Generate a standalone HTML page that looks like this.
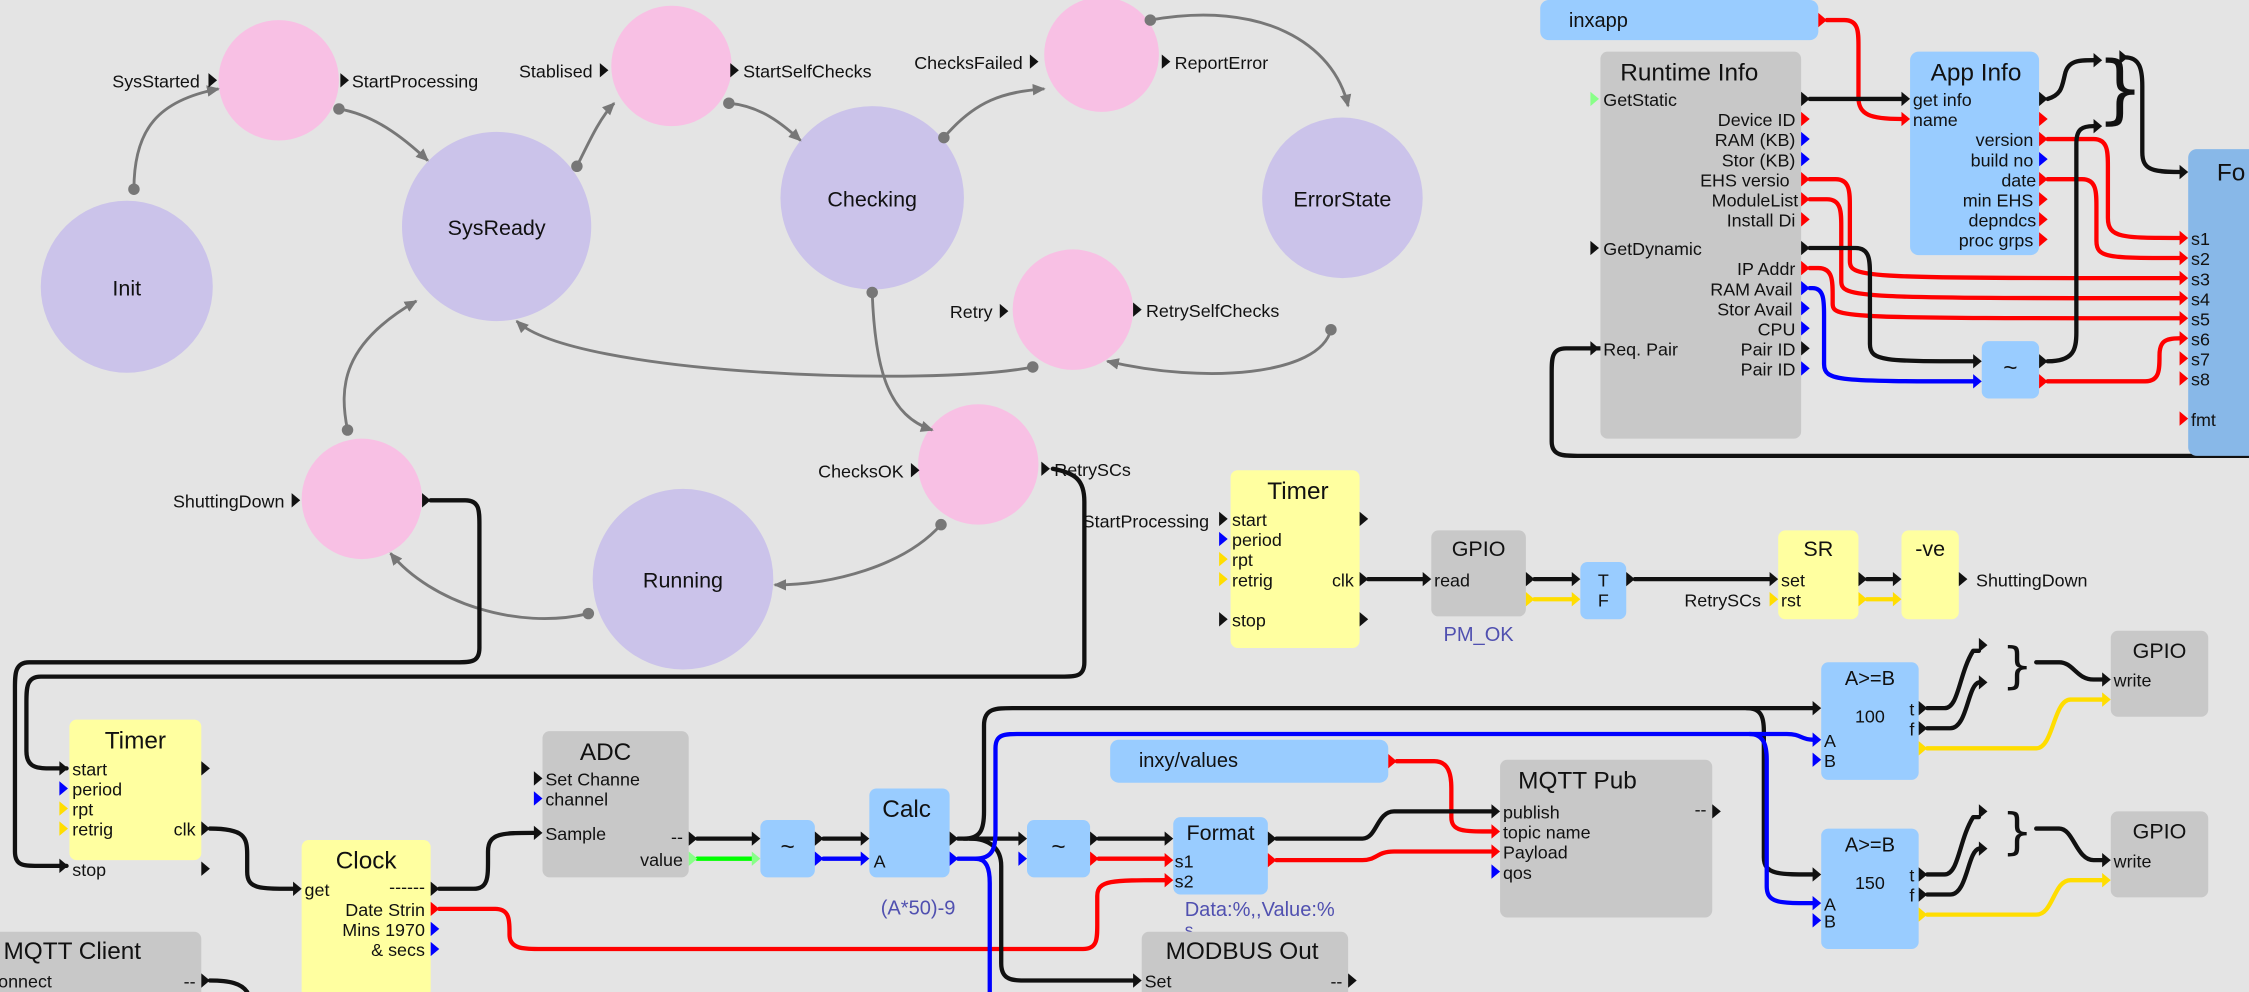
<!DOCTYPE html>
<html><head><meta charset="utf-8"><style>
html,body{margin:0;padding:0;background:#e4e4e4;}
svg{display:block;}
text{font-family:"Liberation Sans",sans-serif;fill:#111;}
.p{font-size:12.5px;}
.t{font-size:17px;}
.s{font-size:15px;}
.w{fill:none;stroke-width:3;stroke-linecap:round;stroke-linejoin:round;}
.g{fill:none;stroke:#777;stroke-width:2;}
</style></head><body>
<svg width="2249" height="992" viewBox="0 0 1568 692" xmlns="http://www.w3.org/2000/svg">
<defs>
<marker id="ah" markerWidth="10" markerHeight="10" refX="8" refY="5" orient="auto" markerUnits="userSpaceOnUse"><path d="M0,1 L9,5 L0,9 z" fill="#777"/></marker>
<path id="pk" d="M0,-5 L6,0 L0,5 z" fill="#111"/>
<path id="pr" d="M0,-5 L6,0 L0,5 z" fill="#f00"/>
<path id="pb" d="M0,-5 L6,0 L0,5 z" fill="#00f"/>
<path id="py" d="M0,-5 L6,0 L0,5 z" fill="#fd0"/>
<path id="pg" d="M0,-5 L6,0 L0,5 z" fill="#8f8"/>
</defs>
<rect width="1568" height="692" fill="#e4e4e4"/>

<g fill="#cbc3ea">
<circle cx="88" cy="200" r="60"/><circle cx="346" cy="158" r="66"/><circle cx="608" cy="138" r="64"/>
<circle cx="936" cy="138" r="56"/><circle cx="476" cy="404" r="63"/>
</g>
<g fill="#f8c0e4">
<circle cx="194" cy="56" r="42"/><circle cx="468" cy="46" r="42"/><circle cx="768" cy="38" r="40"/>
<circle cx="748" cy="216" r="42"/><circle cx="682" cy="324" r="42"/><circle cx="252" cy="348" r="42"/>
</g>
<g class="s" text-anchor="middle">
<text x="88" y="206">Init</text><text x="346" y="164">SysReady</text><text x="608" y="144">Checking</text>
<text x="936" y="144">ErrorState</text><text x="476" y="410">Running</text>
</g>
<g class="g" marker-end="url(#ah)">
<path d="M93 132 C93 90 110 70 152 62"/>
<path d="M236 76 C260 80 280 95 298 112"/>
<path d="M402 116 C410 100 418 82 428 72"/>
<path d="M508 72 C530 74 545 86 558 98"/>
<path d="M658 96 C680 70 700 64 728 62"/>
<path d="M802 14 C880 0 930 30 940 74"/>
<path d="M928 230 C920 262 840 268 772 252"/>
<path d="M720 256 C650 270 400 262 360 224"/>
<path d="M608 204 C610 260 620 290 650 300"/>
<path d="M656 366 C630 395 580 408 540 408"/>
<path d="M410 428 C360 440 300 420 272 386"/>
<path d="M242 300 C236 270 238 240 290 210"/>
</g>
<g fill="#777">
<circle cx="93" cy="132" r="4"/><circle cx="236" cy="76" r="4"/><circle cx="402" cy="116" r="4"/><circle cx="508" cy="72" r="4"/>
<circle cx="658" cy="96" r="4"/><circle cx="802" cy="14" r="4"/><circle cx="928" cy="230" r="4"/><circle cx="720" cy="256" r="4"/>
<circle cx="608" cy="204" r="4"/><circle cx="656" cy="366" r="4"/><circle cx="410" cy="428" r="4"/><circle cx="242" cy="300" r="4"/>
</g>
<g class="p">
<text x="139" y="61" text-anchor="end">SysStarted</text><use href="#pk" x="145" y="56"/>
<use href="#pk" x="237" y="56"/><text x="245" y="61">StartProcessing</text>
<text x="413" y="54" text-anchor="end">Stablised</text><use href="#pk" x="418" y="49"/>
<use href="#pk" x="509" y="49"/><text x="518" y="54">StartSelfChecks</text>
<text x="713" y="48" text-anchor="end">ChecksFailed</text><use href="#pk" x="718" y="43"/>
<use href="#pk" x="810" y="43"/><text x="819" y="48">ReportError</text>
<text x="692" y="222" text-anchor="end">Retry</text><use href="#pk" x="697" y="217"/>
<use href="#pk" x="790" y="216"/><text x="799" y="221">RetrySelfChecks</text>
<text x="630" y="333" text-anchor="end">ChecksOK</text><use href="#pk" x="635" y="328"/>
<use href="#pk" x="726" y="327"/><text x="735" y="332">RetrySCs</text>
<text x="198" y="354" text-anchor="end">ShuttingDown</text><use href="#pk" x="203" y="349"/>
<use href="#pk" x="294" y="349"/>
<text x="843" y="368" text-anchor="end">StartProcessing</text>
</g>

<path class="w" stroke="#111" d="M300 349 H324 C334 349 334 356 334 366 V452 C334 462 328 462 318 462 H20 C10 462 10 470 10 480 V594 C10 604 16 604 26 604 H46"/>
<path class="w" stroke="#111" d="M734 327 C750 330 756 335 756 350 V462 C756 472 750 472 740 472 H28 C18 472 18 480 18 490 V524 C18 536 26 536 36 536 H46"/>

<rect x="858" y="328" width="90" height="124" rx="5" fill="#ffffa0"/>
<text class="t" x="905" y="348" text-anchor="middle">Timer</text>
<g class="p"><text x="859" y="367">start</text><text x="859" y="381">period</text><text x="859" y="395">rpt</text><text x="859" y="409">retrig</text><text x="859" y="437">stop</text><text x="944" y="409" text-anchor="end">clk</text></g>
<use href="#pk" x="850" y="362"/><use href="#pb" x="850" y="376"/><use href="#py" x="850" y="390"/><use href="#py" x="850" y="404"/><use href="#pk" x="850" y="432"/>
<use href="#pk" x="948" y="362"/><use href="#pk" x="948" y="404"/><use href="#pk" x="948" y="432"/>
<path class="w" stroke="#111" d="M954 404 H992"/>
<rect x="998" y="370" width="66" height="60" rx="5" fill="#c8c8c8"/>
<text class="t" x="1031" y="388" text-anchor="middle" style="font-size:15px">GPIO</text>
<text class="p" x="1000" y="409">read</text>
<use href="#pk" x="992" y="404"/>
<text class="p" x="1031" y="447" text-anchor="middle" style="fill:#5050b0;font-size:14px">PM_OK</text>
<path class="w" stroke="#111" d="M1070 404 H1096"/><path class="w" stroke="#fd0" d="M1070 418 H1096"/>
<use href="#pk" x="1064" y="404"/><use href="#py" x="1064" y="418"/>
<rect x="1102" y="392" width="32" height="40" rx="5" fill="#99ccff"/>
<text class="p" x="1118" y="409" text-anchor="middle">T</text><text class="p" x="1118" y="423" text-anchor="middle">F</text>
<use href="#pk" x="1096" y="404"/><use href="#py" x="1096" y="418"/><use href="#pk" x="1134" y="404"/>
<path class="w" stroke="#111" d="M1140 404 H1234"/>
<text class="p" x="1228" y="423" text-anchor="end">RetrySCs</text>
<rect x="1240" y="370" width="56" height="62" rx="5" fill="#ffffa0"/>
<text class="t" x="1268" y="388" text-anchor="middle" style="font-size:15px">SR</text>
<text class="p" x="1242" y="409">set</text><text class="p" x="1242" y="423">rst</text>
<use href="#pk" x="1234" y="404"/><use href="#py" x="1234" y="418"/><use href="#pk" x="1296" y="404"/><use href="#py" x="1296" y="418"/>
<path class="w" stroke="#111" d="M1302 404 H1320"/><path class="w" stroke="#fd0" d="M1302 418 H1320"/>
<rect x="1326" y="370" width="40" height="62" rx="5" fill="#ffffa0"/>
<text class="t" x="1346" y="388" text-anchor="middle" style="font-size:15px">-ve</text>
<use href="#pk" x="1320" y="404"/><use href="#py" x="1320" y="418"/><use href="#pk" x="1366" y="404"/>
<text class="p" x="1378" y="409">ShuttingDown</text>

<path class="w" stroke="#111" d="M146 578 C170 578 172 584 172 596 V608 C172 620 180 620 204 620"/>
<path class="w" stroke="#111" d="M306 620 H330 C340 620 340 612 340 600 V594 C340 581 350 581 372 581"/>
<path class="w" stroke="#f00" d="M306 634 H345 C355 634 355 642 355 650 V652 C355 662 365 662 375 662 H755 C765 662 765 655 765 645 V625 C765 614 775 614 812 614"/>
<path class="w" stroke="#111" d="M486 585 H524"/><path class="w" stroke="#0f0" d="M486 599 H524"/>
<path class="w" stroke="#111" d="M574 585 H600"/><path class="w" stroke="#00f" d="M574 599 H600"/>
<path class="w" stroke="#111" d="M668 585 H710"/>
<path class="w" stroke="#111" d="M672 585 C684 585 686 578 686 566 V506 C686 494 694 494 706 494 H1264"/>
<path class="w" stroke="#111" d="M1218 494 C1228 494 1230 500 1230 510 V598 C1230 610 1240 610 1264 610"/>
<path class="w" stroke="#111" d="M676 585 C690 585 698 592 698 604 V672 C698 684 706 684 716 684 H790"/>
<path class="w" stroke="#00f" d="M668 599 H680 C692 599 694 592 694 580 V522 C694 512 700 512 712 512 H1246 C1256 512 1256 516 1264 516"/>
<path class="w" stroke="#00f" d="M1220 512 C1230 512 1232 520 1232 530 V618 C1232 630 1240 630 1264 630"/>
<path class="w" stroke="#00f" d="M680 599 C688 599 690 606 690 616 V692"/>
<path class="w" stroke="#111" d="M766 585 H812"/><path class="w" stroke="#f00" d="M766 599 H812"/>
<path class="w" stroke="#f00" d="M974 531 H1000 C1010 531 1012 540 1012 550 V570 C1012 580 1020 580 1040 580"/>
<path class="w" stroke="#111" d="M890 585 H950 C960 585 960 566 972 566 H1040"/>
<path class="w" stroke="#f00" d="M890 600 H950 C960 600 960 594 972 594 H1040"/>
<path class="w" stroke="#111" d="M146 684 C160 684 168 686 172 692"/>

<rect x="48" y="502" width="92" height="98" rx="5" fill="#ffffa0"/>
<text class="t" x="94" y="522" text-anchor="middle">Timer</text>
<g class="p"><text x="50" y="541">start</text><text x="50" y="555">period</text><text x="50" y="569">rpt</text><text x="50" y="583">retrig</text><text x="50" y="611">stop</text><text x="136" y="583" text-anchor="end">clk</text></g>
<use href="#pk" x="41" y="536"/><use href="#pb" x="41" y="550"/><use href="#py" x="41" y="564"/><use href="#py" x="41" y="578"/><use href="#pk" x="41" y="604"/>
<use href="#pk" x="140" y="536"/><use href="#pk" x="140" y="578"/><use href="#pk" x="140" y="606"/>
<rect x="210" y="586" width="90" height="110" rx="5" fill="#ffffa0"/>
<text class="t" x="255" y="606" text-anchor="middle">Clock</text>
<g class="p"><text x="212" y="625">get</text><text x="296" y="623" text-anchor="end">------</text><text x="296" y="639" text-anchor="end">Date Strin</text><text x="296" y="653" text-anchor="end">Mins 1970</text><text x="296" y="667" text-anchor="end">&amp; secs</text></g>
<use href="#pk" x="204" y="620"/><use href="#pk" x="300" y="620"/><use href="#pr" x="300" y="634"/><use href="#pb" x="300" y="648"/><use href="#pb" x="300" y="662"/>
<rect x="378" y="510" width="102" height="102" rx="5" fill="#c8c8c8"/>
<text class="t" x="422" y="530" text-anchor="middle">ADC</text>
<g class="p"><text x="380" y="548">Set Channe</text><text x="380" y="562">channel</text><text x="380" y="586">Sample</text><text x="476" y="588" text-anchor="end">--</text><text x="476" y="604" text-anchor="end">value</text></g>
<use href="#pk" x="372" y="543"/><use href="#pb" x="372" y="557"/><use href="#pk" x="372" y="581"/><use href="#pk" x="480" y="585"/><use href="#pg" x="480" y="599"/>
<rect x="530" y="572" width="38" height="40" rx="5" fill="#99ccff"/><text class="t" x="549" y="596" text-anchor="middle">~</text>
<use href="#pk" x="524" y="585"/><use href="#pg" x="524" y="599"/><use href="#pk" x="568" y="585"/><use href="#pb" x="568" y="599"/>
<rect x="606" y="550" width="56" height="62" rx="5" fill="#99ccff"/>
<text class="t" x="632" y="570" text-anchor="middle">Calc</text><text class="p" x="609" y="605">A</text>
<use href="#pk" x="600" y="585"/><use href="#pb" x="600" y="599"/><use href="#pk" x="662" y="585"/><use href="#pb" x="662" y="599"/>
<text class="p" x="640" y="638" text-anchor="middle" style="fill:#5050b0;font-size:14px">(A*50)-9</text>
<rect x="716" y="572" width="44" height="40" rx="5" fill="#99ccff"/><text class="t" x="738" y="596" text-anchor="middle">~</text>
<use href="#pk" x="710" y="585"/><use href="#pb" x="710" y="599"/><use href="#pk" x="760" y="585"/><use href="#pr" x="760" y="599"/>
<rect x="818" y="570" width="66" height="54" rx="5" fill="#99ccff"/>
<text class="t" x="851" y="586" text-anchor="middle" style="font-size:15px">Format</text>
<text class="p" x="819" y="605">s1</text><text class="p" x="819" y="619">s2</text>
<use href="#pk" x="812" y="585"/><use href="#pr" x="812" y="600"/><use href="#pr" x="812" y="614"/><use href="#pk" x="884" y="585"/><use href="#pr" x="884" y="600"/>
<text class="p" x="826" y="639" style="fill:#5050b0;font-size:14px">Data:%,,Value:%</text>
<text class="p" x="826" y="653" style="fill:#5050b0;font-size:12px">s</text>
<rect x="774" y="516" width="194" height="30" rx="6" fill="#99ccff"/>
<text class="p" x="794" y="535" style="font-size:14px">inxy/values</text><use href="#pr" x="968" y="531"/>
<rect x="1046" y="530" width="148" height="110" rx="5" fill="#c8c8c8"/>
<text class="t" x="1100" y="550" text-anchor="middle">MQTT Pub</text>
<g class="p"><text x="1048" y="571">publish</text><text x="1048" y="585">topic name</text><text x="1048" y="599">Payload</text><text x="1048" y="613">qos</text><text x="1190" y="569" text-anchor="end">--</text></g>
<use href="#pk" x="1040" y="566"/><use href="#pr" x="1040" y="580"/><use href="#pr" x="1040" y="594"/><use href="#pb" x="1040" y="608"/><use href="#pk" x="1194" y="566"/>
<rect x="796" y="650" width="144" height="50" rx="5" fill="#c8c8c8"/>
<text class="t" x="866" y="669" text-anchor="middle">MODBUS Out</text>
<text class="p" x="798" y="689">Set</text><text class="p" x="936" y="689" text-anchor="end">--</text>
<use href="#pk" x="790" y="684"/><use href="#pk" x="940" y="684"/>
<rect x="-10" y="650" width="150" height="50" rx="5" fill="#c8c8c8"/>
<text class="t" x="2" y="669">MQTT Client</text>
<text class="p" x="-8" y="689">connect</text><text class="p" x="136" y="689" text-anchor="end">--</text>
<use href="#pk" x="140" y="684"/>

<g>
<rect x="1270" y="462" width="68" height="82" rx="5" fill="#99ccff"/>
<text class="p" x="1304" y="478" text-anchor="middle" style="font-size:14px">A&gt;=B</text>
<text class="p" x="1304" y="504" text-anchor="middle">100</text>
<text class="p" x="1335" y="499" text-anchor="end">t</text><text class="p" x="1335" y="513" text-anchor="end">f</text>
<text class="p" x="1272" y="521">A</text><text class="p" x="1272" y="535">B</text>
<use href="#pk" x="1264" y="494"/><use href="#pb" x="1264" y="516"/><use href="#pb" x="1264" y="530"/>
<use href="#pk" x="1338" y="494"/><use href="#pk" x="1338" y="508"/><use href="#py" x="1338" y="522"/>
<path class="w" stroke="#111" d="M1344 494 H1356 C1366 494 1366 470 1376 454 H1380"/>
<path class="w" stroke="#111" d="M1344 508 H1360 C1372 508 1372 478 1380 476"/>
<use href="#pk" x="1380" y="450"/><use href="#pk" x="1380" y="476"/>
<text x="1396" y="476" style="font-size:34px;font-family:'DejaVu Sans',sans-serif">}</text>
<path class="w" stroke="#111" d="M1420 462 H1436 C1446 462 1448 474 1460 474 H1466"/>
<path class="w" stroke="#fd0" d="M1344 522 H1420 C1432 522 1432 488 1444 488 H1466"/>
<rect x="1472" y="440" width="68" height="60" rx="5" fill="#c8c8c8"/>
<text x="1506" y="459" text-anchor="middle" style="font-size:15px">GPIO</text>
<text class="p" x="1474" y="479">write</text>
<use href="#pk" x="1466" y="474"/><use href="#py" x="1466" y="488"/>
</g>
<g transform="translate(0,116)">
<rect x="1270" y="462" width="68" height="84" rx="5" fill="#99ccff"/>
<text class="p" x="1304" y="478" text-anchor="middle" style="font-size:14px">A&gt;=B</text>
<text class="p" x="1304" y="504" text-anchor="middle">150</text>
<text class="p" x="1335" y="499" text-anchor="end">t</text><text class="p" x="1335" y="513" text-anchor="end">f</text>
<text class="p" x="1272" y="519">A</text><text class="p" x="1272" y="531">B</text>
<use href="#pk" x="1264" y="494"/><use href="#pb" x="1264" y="514"/><use href="#pb" x="1264" y="526"/>
<use href="#pk" x="1338" y="494"/><use href="#pk" x="1338" y="508"/><use href="#py" x="1338" y="522"/>
<path class="w" stroke="#111" d="M1344 494 H1356 C1366 494 1366 470 1376 454 H1380"/>
<path class="w" stroke="#111" d="M1344 508 H1360 C1372 508 1372 478 1380 476"/>
<use href="#pk" x="1380" y="450"/><use href="#pk" x="1380" y="476"/>
<text x="1396" y="476" style="font-size:34px;font-family:'DejaVu Sans',sans-serif">}</text>
<path class="w" stroke="#111" d="M1420 462 H1436 C1446 462 1448 484 1460 484 H1466"/>
<path class="w" stroke="#fd0" d="M1344 522 H1420 C1432 522 1432 498 1444 498 H1466"/>
<rect x="1472" y="450" width="68" height="60" rx="5" fill="#c8c8c8"/>
<text x="1506" y="469" text-anchor="middle" style="font-size:15px">GPIO</text>
<text class="p" x="1474" y="489">write</text>
<use href="#pk" x="1466" y="484"/><use href="#py" x="1466" y="498"/>
</g>

<path class="w" stroke="#111" d="M1116 243 H1092 C1082 243 1082 250 1082 260 V308 C1082 318 1090 318 1100 318 H1568"/>
<path class="w" stroke="#f00" d="M1274 14 H1286 C1296 14 1296 22 1296 32 V68 C1296 80 1304 83 1326 83"/>
<path class="w" stroke="#111" d="M1262 69 H1326"/>
<path class="w" stroke="#f00" d="M1428 97 H1460 C1470 97 1470 106 1470 116 V152 C1470 166 1480 166 1520 166"/>
<path class="w" stroke="#f00" d="M1428 125 H1452 C1462 125 1462 134 1462 144 V168 C1462 180 1470 180 1520 180"/>
<path class="w" stroke="#f00" d="M1262 125 H1280 C1290 125 1290 134 1290 144 V182 C1290 194 1300 194 1520 194"/>
<path class="w" stroke="#f00" d="M1262 139 H1274 C1284 139 1284 148 1284 158 V196 C1284 208 1294 208 1520 208"/>
<path class="w" stroke="#f00" d="M1262 187 H1268 C1278 187 1278 196 1278 206 V212 C1278 222 1288 222 1520 222"/>
<path class="w" stroke="#111" d="M1262 173 H1294 C1304 173 1304 182 1304 192 V240 C1304 252 1314 252 1376 252"/>
<path class="w" stroke="#00f" d="M1262 201 H1264 C1272 201 1272 210 1272 220 V254 C1272 266 1282 266 1376 266"/>
<path class="w" stroke="#f00" d="M1428 266 H1496 C1506 266 1506 258 1506 248 C1506 238 1510 236 1520 236"/>
<path class="w" stroke="#111" d="M1428 252 C1446 252 1448 244 1448 232 V100 C1448 90 1452 88 1460 88"/>
<path class="w" stroke="#111" d="M1428 69 C1438 66 1438 60 1440 52 C1442 42 1450 42 1460 42"/>
<path class="w" stroke="#111" d="M1482 40 C1492 40 1494 48 1494 60 V106 C1494 118 1500 120 1520 120"/>
<use href="#pk" x="1460" y="42"/><use href="#pk" x="1460" y="88"/><use href="#pk" x="1478" y="40"/>
<text x="1462" y="80" style="font-size:52px;font-family:'DejaVu Sans',sans-serif">}</text>

<rect x="1074" y="0" width="194" height="28" rx="6" fill="#99ccff"/>
<text x="1094" y="19" style="font-size:14px">inxapp</text><use href="#pr" x="1268" y="14"/>

<rect x="1116" y="36" width="140" height="270" rx="5" fill="#c8c8c8"/>
<text class="t" x="1178" y="56" text-anchor="middle">Runtime Info</text>
<g class="p">
<text x="1118" y="74">GetStatic</text>
<text x="1252" y="88" text-anchor="end">Device ID</text><text x="1252" y="102" text-anchor="end">RAM (KB)</text><text x="1252" y="116" text-anchor="end">Stor (KB)</text>
<text x="1248" y="130" text-anchor="end">EHS versio</text><text x="1254" y="144" text-anchor="end">ModuleList</text><text x="1252" y="158" text-anchor="end">Install Di</text>
<text x="1118" y="178">GetDynamic</text>
<text x="1252" y="192" text-anchor="end">IP Addr</text><text x="1250" y="206" text-anchor="end">RAM Avail</text><text x="1250" y="220" text-anchor="end">Stor Avail</text>
<text x="1252" y="234" text-anchor="end">CPU</text><text x="1118" y="248">Req. Pair</text>
<text x="1252" y="248" text-anchor="end">Pair ID</text><text x="1252" y="262" text-anchor="end">Pair ID</text>
</g>
<use href="#pg" x="1109" y="69"/><use href="#pk" x="1109" y="173"/><use href="#pk" x="1109" y="243"/>
<use href="#pk" x="1256" y="69"/><use href="#pr" x="1256" y="83"/><use href="#pb" x="1256" y="97"/><use href="#pb" x="1256" y="111"/>
<use href="#pr" x="1256" y="125"/><use href="#pr" x="1256" y="139"/><use href="#pr" x="1256" y="153"/><use href="#pk" x="1256" y="173"/>
<use href="#pr" x="1256" y="187"/><use href="#pb" x="1256" y="201"/><use href="#pb" x="1256" y="215"/><use href="#pb" x="1256" y="229"/>
<use href="#pk" x="1256" y="243"/><use href="#pb" x="1256" y="257"/>

<rect x="1332" y="36" width="90" height="142" rx="6" fill="#99ccff"/>
<text class="t" x="1378" y="56" text-anchor="middle">App Info</text>
<g class="p">
<text x="1334" y="74">get info</text><text x="1334" y="88">name</text>
<text x="1418" y="102" text-anchor="end">version</text><text x="1418" y="116" text-anchor="end">build no</text><text x="1420" y="130" text-anchor="end">date</text>
<text x="1418" y="144" text-anchor="end">min EHS</text><text x="1420" y="158" text-anchor="end">depndcs</text><text x="1418" y="172" text-anchor="end">proc grps</text>
</g>
<use href="#pk" x="1326" y="69"/><use href="#pr" x="1326" y="83"/>
<use href="#pk" x="1422" y="69"/><use href="#pr" x="1422" y="83"/><use href="#pr" x="1422" y="97"/><use href="#pb" x="1422" y="111"/>
<use href="#pr" x="1422" y="125"/><use href="#pr" x="1422" y="139"/><use href="#pr" x="1422" y="153"/><use href="#pr" x="1422" y="167"/>

<rect x="1382" y="238" width="40" height="40" rx="5" fill="#99ccff"/><text class="t" x="1402" y="262" text-anchor="middle">~</text>
<use href="#pk" x="1376" y="252"/><use href="#pb" x="1376" y="266"/><use href="#pk" x="1422" y="252"/><use href="#pr" x="1422" y="266"/>

<rect x="1526" y="104" width="60" height="214" rx="6" fill="#88b8e8"/>
<text class="t" x="1546" y="126">Fo</text>
<g class="p">
<text x="1528" y="171">s1</text><text x="1528" y="185">s2</text><text x="1528" y="199">s3</text><text x="1528" y="213">s4</text>
<text x="1528" y="227">s5</text><text x="1528" y="241">s6</text><text x="1528" y="255">s7</text><text x="1528" y="269">s8</text><text x="1528" y="297">fmt</text>
</g>
<use href="#pk" x="1520" y="120"/>
<use href="#pr" x="1520" y="166"/><use href="#pr" x="1520" y="180"/><use href="#pr" x="1520" y="194"/><use href="#pr" x="1520" y="208"/>
<use href="#pr" x="1520" y="222"/><use href="#pr" x="1520" y="236"/><use href="#pr" x="1520" y="250"/><use href="#pr" x="1520" y="264"/><use href="#pr" x="1520" y="292"/>
</svg>
</body></html>
